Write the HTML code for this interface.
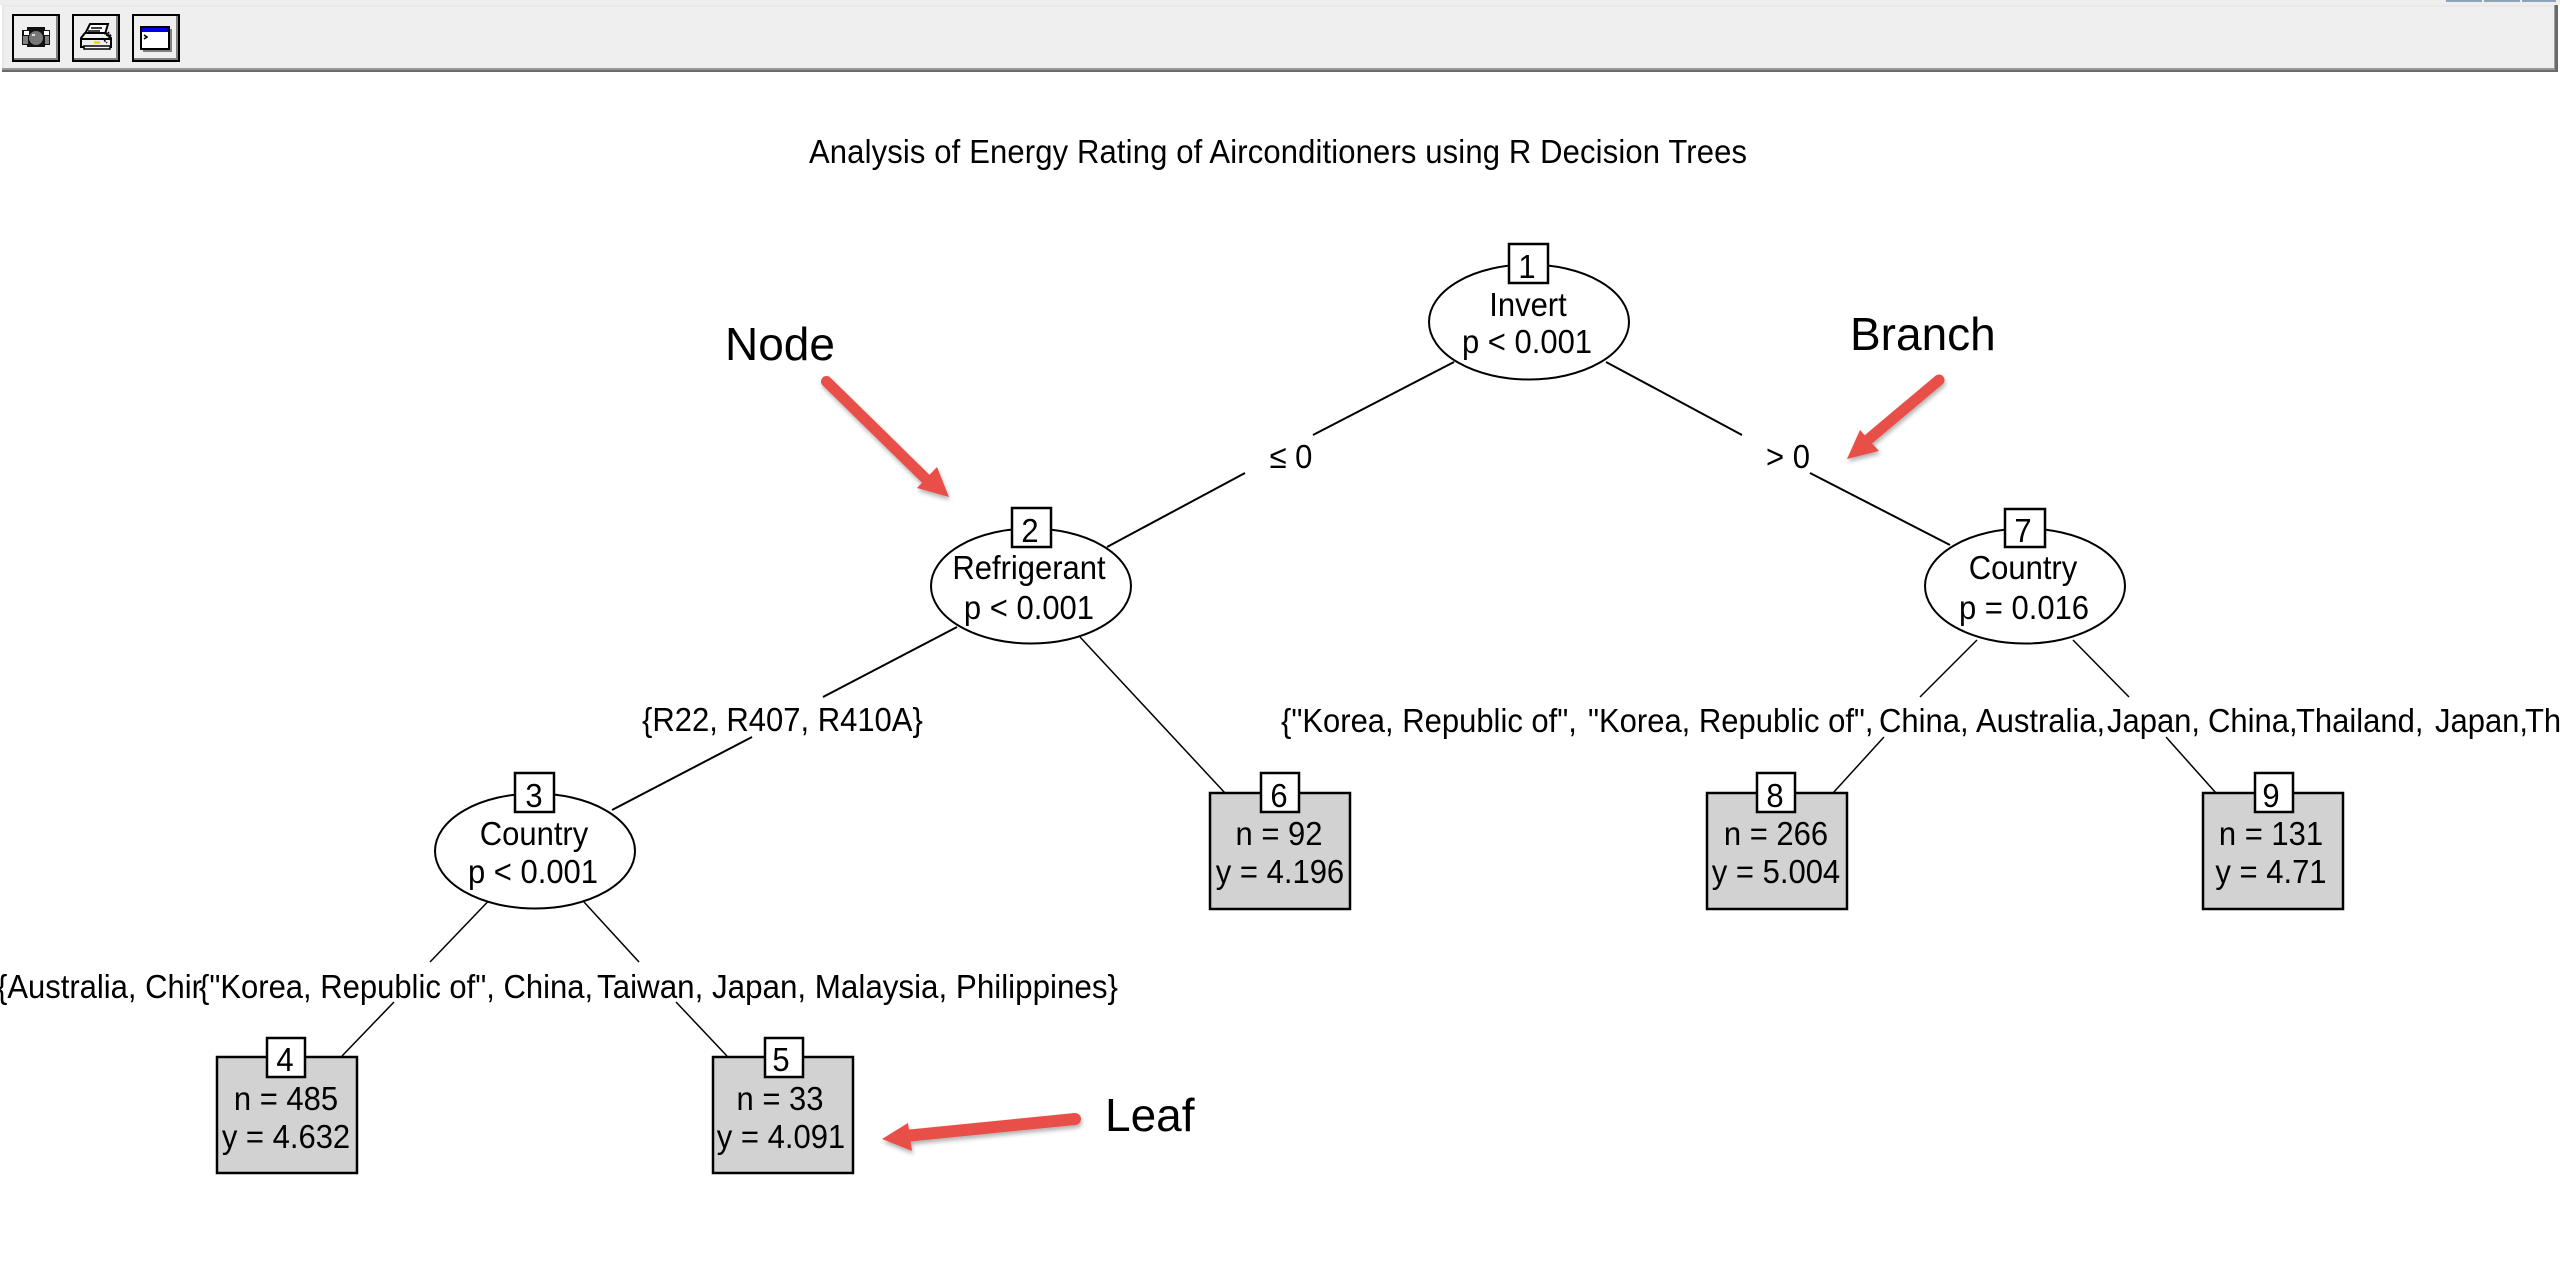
<!DOCTYPE html>
<html>
<head>
<meta charset="utf-8">
<style>
html,body{margin:0;padding:0;background:#fff;width:2560px;height:1286px;overflow:hidden}
svg{display:block}
text{font-family:"Liberation Sans",sans-serif;fill:#000}
.t,.l,.h{transform-box:fill-box;transform-origin:50% 81%;transform:scaleY(1.08)}
.t{font-size:31px;text-anchor:middle}
.l{font-size:31px}
.a{font-size:46px}
.n{fill:none;stroke:#000;stroke-width:2}
.s{fill:none;stroke:#000;stroke-width:1.5}
.b{fill:#fff;stroke:#000;stroke-width:2.5}
.f{fill:#d2d2d2;stroke:#000;stroke-width:2.5}
</style>
</head>
<body>
<svg width="2560" height="1286" viewBox="0 0 2560 1286" xmlns="http://www.w3.org/2000/svg">
<defs>
<filter id="sh" x="-20%" y="-20%" width="140%" height="140%"><feDropShadow dx="1" dy="3" stdDeviation="2" flood-color="#000" flood-opacity="0.3"/></filter>
</defs>
<rect width="2560" height="1286" fill="#fff"/>
<!-- toolbar -->
<rect x="0" y="0" width="2560" height="5" fill="#eeeeee"/>
<rect x="2446" y="0" width="36" height="2" fill="#8fa3b8"/>
<rect x="2484" y="0" width="36" height="2" fill="#8fa3b8"/>
<rect x="2522" y="0" width="34" height="2" fill="#8fa3b8"/>
<rect x="2" y="5" width="2556" height="66" fill="#6a6a6a"/>
<rect x="2" y="5" width="2553" height="63" fill="#a0a0a0"/>
<rect x="2" y="5" width="2552" height="63" fill="#e8e8e8"/>
<rect x="4" y="7" width="2550" height="61" fill="#efefef"/>
<rect x="2" y="68" width="2556" height="2" fill="#999"/>
<rect x="2" y="70" width="2556" height="2" fill="#6a6a6a"/>
<rect x="2555" y="5" width="3" height="66" fill="#6a6a6a"/>
<!-- buttons -->
<g>
<rect x="13" y="15" width="46" height="46" fill="#efefef" stroke="#000" stroke-width="2"/>
<path d="M58 16v44h-44v-2h42v-42z" fill="#808080"/>
<rect x="73" y="15" width="46" height="46" fill="#efefef" stroke="#000" stroke-width="2"/>
<path d="M118 16v44h-44v-2h42v-42z" fill="#808080"/>
<rect x="133" y="15" width="46" height="46" fill="#efefef" stroke="#000" stroke-width="2"/>
<path d="M178 16v44h-44v-2h42v-42z" fill="#808080"/>
</g>
<!-- camera -->
<rect x="22" y="30" width="28" height="15" fill="#111"/>
<rect x="27" y="27" width="18" height="20" fill="#111"/>
<rect x="24" y="31" width="5" height="4" fill="#fff"/>
<rect x="44" y="31" width="5" height="4" fill="#fff"/>
<rect x="23" y="36" width="5" height="8" fill="#808080"/>
<rect x="45" y="36" width="4" height="8" fill="#808080"/>
<circle cx="36" cy="38" r="7" fill="#777"/>
<rect x="32" y="34" width="3" height="2" fill="#ddd"/>
<!-- printer -->
<path d="M90 24h18l-3 10h-20z" fill="#fff" stroke="#000" stroke-width="2"/>
<path d="M91 28h11M88 31h12" stroke="#000" stroke-width="1.5"/>
<path d="M81 38l4-5h21l5 5v9h-30z" fill="#efefef" stroke="#000" stroke-width="2"/>
<rect x="84" y="46" width="26" height="3" fill="#fff" stroke="#000" stroke-width="1.5"/>
<path d="M81 39h30" stroke="#000" stroke-width="2"/>
<rect x="94" y="41" width="6" height="3" fill="#e8e000"/>
<path d="M104 33l6 5M108 32l3 4M102 38l5 5" stroke="#000" stroke-width="1.5" stroke-dasharray="2 1"/>
<!-- window -->
<rect x="143" y="29" width="29" height="23" fill="#808080"/>
<rect x="141" y="27" width="28" height="22" fill="#fff" stroke="#000" stroke-width="2"/>
<rect x="142" y="28" width="26" height="4" fill="#0000e8"/>
<path d="M144 35l3 2-3 2" fill="none" stroke="#000" stroke-width="1.6"/>

<!-- title -->
<text class="h" x="809" y="163" font-size="31" textLength="938" lengthAdjust="spacing">Analysis of Energy Rating of Airconditioners using R Decision Trees</text>

<!-- edges -->
<g class="edges">
<path class="n" d="M1454 362L1313 435"/>
<path class="n" d="M1245 473L1107 547"/>
<path class="n" d="M1606 362L1742 435"/>
<path class="n" d="M1810 473L1950 545"/>
<path class="n" d="M957 627L823 697"/>
<path class="n" d="M752 737L612 810"/>
<path class="s" d="M1080 637L1225 793"/>
<path class="s" d="M487.5 902L430 962"/>
<path class="s" d="M394 1002L342 1056"/>
<path class="s" d="M584 902L639 962"/>
<path class="s" d="M676 1002L727 1056"/>
<path class="s" d="M1977 640L1920 697"/>
<path class="s" d="M1884 737L1833 793"/>
<path class="s" d="M2073 640L2129 697"/>
<path class="s" d="M2166 737L2216 793"/>
</g>

<!-- inner nodes -->
<ellipse class="n" cx="1529" cy="322" rx="100" ry="57.5"/>
<rect class="b" x="1509" y="244" width="39" height="39"/>
<text class="t" x="1527" y="278">1</text>
<text class="t" x="1528" y="316">Invert</text>
<text class="t" x="1527" y="353">p &lt; 0.001</text>

<ellipse class="n" cx="1031" cy="586" rx="100" ry="57.5"/>
<rect class="b" x="1012" y="508" width="39" height="39"/>
<text class="t" x="1030" y="542">2</text>
<text class="t" x="1029" y="579">Refrigerant</text>
<text class="t" x="1029" y="619">p &lt; 0.001</text>

<ellipse class="n" cx="535" cy="851" rx="100" ry="57.5"/>
<rect class="b" x="515" y="773" width="39" height="39"/>
<text class="t" x="534" y="807">3</text>
<text class="t" x="534" y="845">Country</text>
<text class="t" x="533" y="883">p &lt; 0.001</text>

<ellipse class="n" cx="2025" cy="586" rx="100" ry="57.5"/>
<rect class="b" x="2005" y="509" width="40" height="38"/>
<text class="t" x="2023" y="542">7</text>
<text class="t" x="2023" y="579">Country</text>
<text class="t" x="2024" y="619">p = 0.016</text>

<!-- leaves -->
<rect class="f" x="217" y="1057" width="140" height="116"/>
<rect class="b" x="267" y="1038" width="38" height="39"/>
<text class="t" x="285" y="1071">4</text>
<text class="t" x="286" y="1110">n = 485</text>
<text class="t" x="286" y="1148">y = 4.632</text>

<rect class="f" x="713" y="1057" width="140" height="116"/>
<rect class="b" x="765" y="1038" width="38" height="39"/>
<text class="t" x="781" y="1071">5</text>
<text class="t" x="780" y="1110">n = 33</text>
<text class="t" x="781" y="1148">y = 4.091</text>

<rect class="f" x="1210" y="793" width="140" height="116"/>
<rect class="b" x="1261" y="773" width="38" height="39"/>
<text class="t" x="1279" y="807">6</text>
<text class="t" x="1279" y="845">n = 92</text>
<text class="t" x="1280" y="883">y = 4.196</text>

<rect class="f" x="1707" y="793" width="140" height="116"/>
<rect class="b" x="1757" y="773" width="38" height="39"/>
<text class="t" x="1775" y="807">8</text>
<text class="t" x="1776" y="845">n = 266</text>
<text class="t" x="1776" y="883">y = 5.004</text>

<rect class="f" x="2203" y="793" width="140" height="116"/>
<rect class="b" x="2255" y="773" width="38" height="39"/>
<text class="t" x="2271" y="807">9</text>
<text class="t" x="2271" y="845">n = 131</text>
<text class="t" x="2271" y="883">y = 4.71</text>

<!-- edge labels -->
<text class="t" x="1291" y="468">≤ 0</text>
<text class="t" x="1788" y="468">&gt; 0</text>
<text class="l" x="642" y="731">{R22, R407, R410A}</text>
<text class="l" x="-3" y="998">{Australia, Chir</text>
<text class="l" x="199" y="998">{"Korea, Republic of", China,</text>
<text class="l" x="597" y="998" textLength="521" lengthAdjust="spacingAndGlyphs">Taiwan, Japan, Malaysia, Philippines}</text>
<text class="l" x="1281" y="732">{"Korea, Republic of",</text>
<text class="l" x="1588" y="732">"Korea, Republic of",</text>
<text class="l" x="1879" y="732">China,</text>
<text class="l" x="1976" y="732">Australia,</text>
<text class="l" x="2107" y="732">Japan,</text>
<text class="l" x="2208" y="732">China,</text>
<text class="l" x="2296" y="732">Thailand,</text>
<text class="l" x="2435" y="732">Japan,</text>
<text class="l" x="2525" y="732">Th</text>

<!-- annotations -->
<text class="a" x="725" y="360">Node</text>
<text class="a" x="1850" y="350">Branch</text>
<text class="a" x="1105" y="1131">Leaf</text>

<g filter="url(#sh)">
<path d="M826.5 381.5L927 480" stroke="#e8504a" stroke-width="11" stroke-linecap="round" fill="none"/>
<polygon points="949,497 917,488 937,467" fill="#e8504a"/>
<path d="M1939 380L1870 438" stroke="#e8504a" stroke-width="11" stroke-linecap="round" fill="none"/>
<polygon points="1847,459 1860,430 1879,451" fill="#e8504a"/>
<path d="M1075 1119L905 1136" stroke="#e8504a" stroke-width="12" stroke-linecap="round" fill="none"/>
<polygon points="882,1139 908,1123 912,1151" fill="#e8504a"/>
</g>
</svg>
</body>
</html>
